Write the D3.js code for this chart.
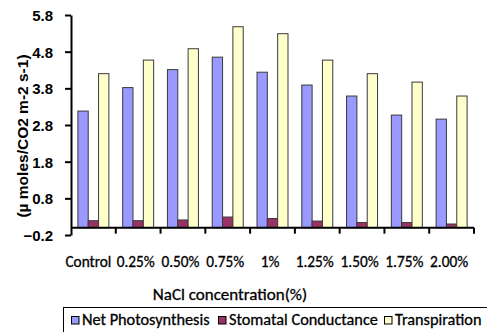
<!DOCTYPE html>
<html><head><meta charset="utf-8">
<script src="https://cdn.jsdelivr.net/npm/d3@7"></script>
<style>body{margin:0;background:#fff}svg{display:block}</style>
</head><body>
<svg id="c" width="487" height="332"></svg>
<script>
const categories = ["Control","0.25%","0.50%","0.75%","1%","1.25%","1.50%","1.75%","2.00%"];
const seriesNames = ["Net Photosynthesis","Stomatal Conductance","Transpiration"];
const netPhotosynthesis = [3.18,3.82,4.31,4.65,4.24,3.89,3.59,3.07,2.96];
const stomatalConductance = [0.19,0.19,0.21,0.29,0.25,0.18,0.14,0.14,0.10];
const transpiration = [4.20,4.57,4.88,5.48,5.29,4.57,4.20,3.97,3.59];
const yTicks = [-0.2,0.8,1.8,2.8,3.8,4.8,5.8];
const colors = ["#9999FF","#993366","#FFFFCC"];
const yTitle = "(µ moles/CO2 m-2 s-1)";
const xTitle = "NaCl concentration(%)";

(function(){
const series = [netPhotosynthesis, stomatalConductance, transpiration];
const svg = d3.select("#c");
const mL = 71, mR = 474, mT = 15, mB = 235;
const y = d3.scaleLinear().domain([-0.2,5.8]).range([mB, mT]);
const x = d3.scaleBand().domain(categories).range([mL, mR]).paddingInner(0.308).paddingOuter(0.154);
const xs = d3.scaleBand().domain(d3.range(3)).range([0, x.bandwidth()]);

const font = "Carlito, Lato, 'Open Sans', sans-serif";
const sans = "'Liberation Sans', Arial, sans-serif";

categories.forEach((c, i) => {
  series.forEach((s, k) => {
    svg.append("rect")
      .attr("x", x(c) + xs(k))
      .attr("y", y(s[i]))
      .attr("width", xs.bandwidth())
      .attr("height", y(0) - y(s[i]))
      .attr("fill", colors[k])
      .attr("stroke", "#3a3a3a")
      .attr("stroke-width", 1);
  });
});

const yAxis = d3.axisLeft(y).tickValues(yTicks).tickFormat(d3.format(".1f")).tickSize(6).tickSizeOuter(0);
const gy = svg.append("g").attr("transform", `translate(${mL},0)`).call(yAxis);
gy.select(".domain").attr("stroke", "#000").attr("stroke-width", 2);
gy.selectAll(".tick line").attr("stroke", "#000").attr("stroke-width", 2);
gy.selectAll(".tick text").attr("x", -18).attr("dy", "0.36em").attr("font-family", sans)
  .attr("font-weight", "bold").attr("font-size", 15).attr("fill", "#000");

const boundaries = d3.range(categories.length + 1).map(i => mL + i * x.step());
svg.append("line").attr("x1", mL).attr("x2", mR).attr("y1", y(0)).attr("y2", y(0))
  .attr("stroke", "#000").attr("stroke-width", 2);
svg.selectAll(".xt").data(boundaries.slice(1)).enter().append("line")
  .attr("x1", d => d).attr("x2", d => d).attr("y1", y(0)).attr("y2", y(0) + 6)
  .attr("stroke", "#000").attr("stroke-width", 2);

svg.selectAll(".xl").data(categories).enter().append("text")
  .attr("x", (d, i) => x(d) + x.bandwidth() / 2 - (i === 0 ? 5 : 2.5))
  .attr("y", 267)
  .attr("text-anchor", "middle")
  .attr("font-family", font).attr("font-size", 15.3).attr("fill", "#000")
  .attr("stroke", "#000").attr("stroke-width", 0.3)
  .text(d => d);

svg.append("text").attr("x", 230).attr("y", 300).attr("text-anchor", "middle")
  .attr("font-family", font).attr("font-size", 17).attr("fill", "#000")
  .attr("stroke", "#000").attr("stroke-width", 0.3).text(xTitle);

svg.append("text").attr("transform", "translate(28,136) rotate(-90)").attr("text-anchor", "middle")
  .attr("font-family", sans).attr("font-weight", "bold")
  .attr("font-size", 15.5).attr("fill", "#000").text(yTitle);

svg.append("rect").attr("x", 63.5).attr("y", 307.5).attr("width", 440).attr("height", 40)
  .attr("fill", "none").attr("stroke", "#000").attr("stroke-width", 1);
const legX = [71, 218, 384];
seriesNames.forEach((n, k) => {
  svg.append("rect").attr("x", legX[k] + 0.5).attr("y", 316.5).attr("width", 7.5).attr("height", 7.5)
    .attr("fill", colors[k]).attr("stroke", "#000").attr("stroke-width", 1);
  svg.append("text").attr("x", legX[k] + 11).attr("y", 325)
    .attr("font-family", font).attr("font-size", 16.3).attr("fill", "#000")
    .attr("stroke", "#000").attr("stroke-width", 0.3).text(n);
});
})();
</script>
</body></html>
